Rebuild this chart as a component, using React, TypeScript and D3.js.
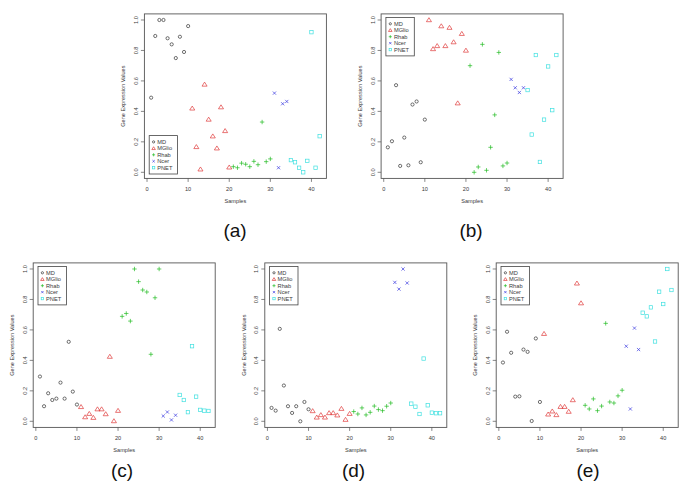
import React from "react";
import * as d3 from "d3";

const groups = ["MD", "MGlio", "Rhab", "Ncer", "PNET"];
const groupSizes = [10, 10, 10, 4, 8];
const groupColors = ["#333333", "#e03a3a", "#22bb22", "#3a3ae0", "#3fe0e0"];
const xTicks = [0, 10, 20, 30, 40];
const yTicks = [0, 0.2, 0.4, 0.6, 0.8, 1.0];
const yTickLabels = ["0.0", "0.2", "0.4", "0.6", "0.8", "1.0"];

const valuesA = [0.49, 0.895, 1.0, 1.0, 0.88, 0.84, 0.75, 0.89, 0.79, 0.96,
  0.42, 0.167, 0.02, 0.577, 0.347, 0.237, 0.158, 0.428, 0.272, 0.033,
  0.037, 0.03, 0.06, 0.053, 0.037, 0.072, 0.05, 0.33, 0.07, 0.088,
  0.52, 0.03, 0.45, 0.465,
  0.08, 0.066, 0.03, 0.0, 0.075, 0.92, 0.03, 0.237];
const valuesB = [0.164, 0.204, 0.572, 0.042, 0.228, 0.046, 0.445, 0.465, 0.066, 0.346,
  1.0, 0.81, 0.83, 0.96, 0.83, 0.95, 0.855, 0.454, 0.91, 0.80,
  0.70, 0.0, 0.035, 0.84, 0.013, 0.164, 0.377, 0.787, 0.042, 0.061,
  0.61, 0.555, 0.524, 0.555,
  0.54, 0.248, 0.77, 0.068, 0.346, 0.695, 0.408, 0.77];
const valuesC = [0.294, 0.099, 0.184, 0.14, 0.149, 0.254, 0.149, 0.522, 0.195, 0.11,
  0.095, 0.028, 0.05, 0.024, 0.08, 0.08, 0.048, 0.425, 0.002, 0.07,
  0.689, 0.708, 0.658, 1.0, 0.917, 0.862, 0.849, 0.44, 0.811, 1.0,
  0.035, 0.061, 0.009, 0.04,
  0.173, 0.14, 0.06, 0.493, 0.162, 0.075, 0.07, 0.068];
const valuesD = [0.088, 0.07, 0.607, 0.235, 0.099, 0.055, 0.099, 0.0, 0.127, 0.079,
  0.068, 0.026, 0.042, 0.026, 0.055, 0.055, 0.04, 0.083, 0.011, 0.05,
  0.064, 0.048, 0.088, 0.042, 0.059, 0.1, 0.077, 0.07, 0.099, 0.12,
  0.912, 0.868, 1.0, 0.908,
  0.116, 0.096, 0.048, 0.412, 0.105, 0.057, 0.053, 0.053];
const valuesE = [0.386, 0.588, 0.45, 0.162, 0.164, 0.471, 0.456, 0.002, 0.544, 0.127,
  0.575, 0.046, 0.066, 0.042, 0.096, 0.096, 0.064, 0.14, 0.906, 0.776,
  0.105, 0.081, 0.147, 0.07, 0.1, 0.643, 0.127, 0.12, 0.167, 0.204,
  0.493, 0.081, 0.612, 0.471,
  0.713, 0.689, 0.748, 0.524, 0.851, 0.77, 1.0, 0.862];

const panelLabels = ["(a)", "(b)", "(c)", "(d)", "(e)"];
const panelValues = [valuesA, valuesB, valuesC, valuesD, valuesE];

// layout (not data)
const panelLayout = [
  { left: 144.4, top: 13.9, legend: "bottomleft", lx: 235, ly: 230 },
  { left: 381.1, top: 13.9, legend: "topleft", lx: 471, ly: 230 },
  { left: 33.2, top: 262.9, legend: "topleft", lx: 122, ly: 470 },
  { left: 264.8, top: 262.9, legend: "topleft", lx: 353.5, ly: 470 },
  { left: 496.2, top: 262.9, legend: "topleft", lx: 588, ly: 470 },
];
const W = 182;
const H = 164.5;
const FONT = "'Liberation Sans', Arial, sans-serif";
const TXT = "#3a3a3a";

// sample -> group index
const sampleGroup: number[] = [];
groupSizes.forEach((n, gi) => {
  for (let i = 0; i < n; i++) sampleGroup.push(gi);
});

function Marker({ g, x, y, k = 1 }: { g: number; x: number; y: number; k?: number }) {
  const c = groupColors[g];
  const sw = 0.7;
  if (g === 0) return <circle cx={x} cy={y} r={1.6 * k} fill="none" stroke={c} strokeWidth={sw} />;
  if (g === 1) {
    const s = 2.3 * k;
    const p = `${x},${y - s} ${x - s * 1.1},${y + s * 0.75} ${x + s * 1.1},${y + s * 0.75}`;
    return <polygon points={p} fill="none" stroke={c} strokeWidth={sw} />;
  }
  if (g === 2) {
    const s = 2.2 * k;
    return (
      <path d={`M${x - s},${y}H${x + s}M${x},${y - s}V${y + s}`} stroke={c} strokeWidth={sw} fill="none" />
    );
  }
  if (g === 3) {
    const s = 1.6 * k;
    return (
      <path d={`M${x - s},${y - s}L${x + s},${y + s}M${x - s},${y + s}L${x + s},${y - s}`} stroke={c} strokeWidth={sw} fill="none" />
    );
  }
  const s = 1.7 * k;
  return <rect x={x - s} y={y - s} width={2 * s} height={2 * s} fill="none" stroke={c} strokeWidth={sw} />;
}

function Panel({ idx }: { idx: number }) {
  const lay = panelLayout[idx];
  const vals = panelValues[idx];
  const x = d3.scaleLinear().domain([1 - 41 * 0.04, 42 + 41 * 0.04]).range([lay.left, lay.left + W]);
  const y = d3.scaleLinear().domain([-0.04, 1.04]).range([lay.top + H, lay.top]);
  const bottom = lay.top + H;
  const tl = 3.5;
  const legW = 28.4;
  const legH = 38.4;
  const legX = lay.left + 4.8;
  const legY = lay.legend === "topleft" ? lay.top + 3.6 : bottom - 4.4 - legH;
  return (
    <g>
      <rect x={lay.left} y={lay.top} width={W} height={H} fill="none" stroke="#555" strokeWidth={0.9} />
      {xTicks.map((t) => (
        <g key={"x" + t}>
          <line x1={x(t)} x2={x(t)} y1={bottom} y2={bottom + tl} stroke="#555" strokeWidth={0.7} />
          <text x={x(t)} y={bottom + 12.2} textAnchor="middle" fontSize={5.6} fill={TXT} fontFamily={FONT}>{t}</text>
        </g>
      ))}
      {yTicks.map((t, i) => (
        <g key={"y" + t}>
          <line x1={lay.left - tl} x2={lay.left} y1={y(t)} y2={y(t)} stroke="#555" strokeWidth={0.7} />
          <text
            transform={`translate(${lay.left - 6.5},${y(t)}) rotate(-90)`}
            textAnchor="middle"
            fontSize={5.6}
            fill={TXT}
            fontFamily={FONT}
          >
            {yTickLabels[i]}
          </text>
        </g>
      ))}
      <text x={lay.left + W / 2} y={bottom + 25} textAnchor="middle" fontSize={5.6} fill={TXT} fontFamily={FONT}>Samples</text>
      <text
        transform={`translate(${lay.left - 19},${lay.top + H / 2}) rotate(-90)`}
        textAnchor="middle"
        fontSize={5.6}
        fill={TXT}
        fontFamily={FONT}
      >
        Gene Expression Values
      </text>
      {vals.map((v, i) => (
        <Marker key={i} g={sampleGroup[i]} x={x(i + 1)} y={y(v)} />
      ))}
      <rect x={legX} y={legY} width={legW} height={legH} fill="white" stroke="#444" strokeWidth={0.8} />
      {groups.map((gname, gi) => (
        <g key={gname}>
          <Marker g={gi} x={legX + 4.4} y={legY + 6.3 + gi * 6.45} k={0.7} />
          <text x={legX + 8} y={legY + 6.3 + gi * 6.45 + 2} fontSize={5.7} fill={TXT} fontFamily={FONT}>{gname}</text>
        </g>
      ))}
      <text x={lay.lx} y={lay.ly + 6.8} textAnchor="middle" fontSize={19} fill="#111" fontFamily={FONT}>{panelLabels[idx]}</text>
    </g>
  );
}

export default function App() {
  return (
    <svg width={685} height={495} style={{ position: "absolute", left: 0, top: 0, background: "white" }}>
      <rect x={0} y={0} width={685} height={495} fill="white" />
      {panelLabels.map((_, i) => (
        <Panel key={i} idx={i} />
      ))}
    </svg>
  );
}
